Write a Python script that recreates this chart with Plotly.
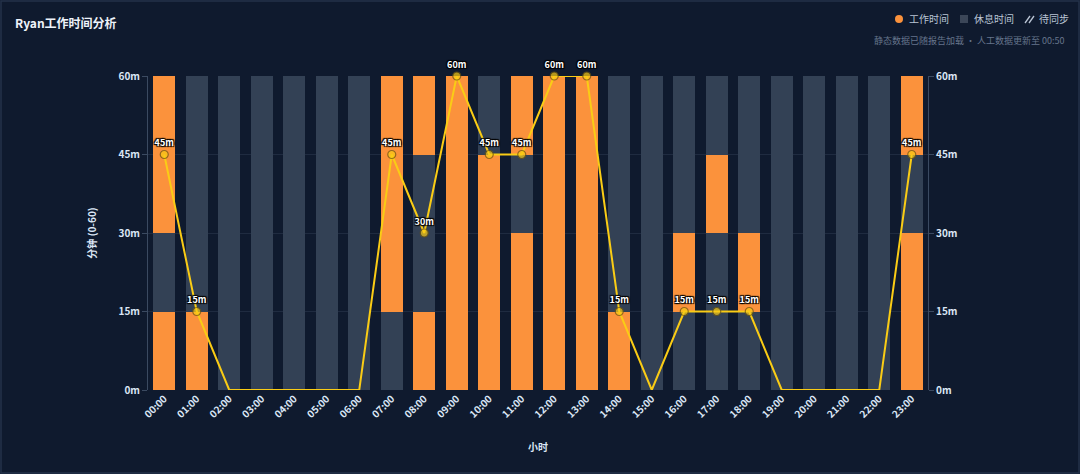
import plotly.graph_objects as go

# hourly data, each hour split into 4 quarters (1 = work, 0 = rest)
hours = ["%02d:00" % h for h in range(24)]
q1 = [1, 1, 0, 0, 0, 0, 0, 0, 1, 1, 1, 1, 1, 1, 1, 0, 0, 0, 0, 0, 0, 0, 0, 1]  # 0-15
q2 = [0, 0, 0, 0, 0, 0, 0, 1, 0, 1, 1, 1, 1, 1, 0, 0, 1, 0, 1, 0, 0, 0, 0, 1]  # 15-30
q3 = [1, 0, 0, 0, 0, 0, 0, 1, 0, 1, 1, 0, 1, 1, 0, 0, 0, 1, 0, 0, 0, 0, 0, 0]  # 30-45
q4 = [1, 0, 0, 0, 0, 0, 0, 1, 1, 1, 0, 1, 1, 1, 0, 0, 0, 0, 0, 0, 0, 0, 0, 1]  # 45-60
quarters = [q1, q2, q3, q4]
work_minutes = [15 * (a + b + c + d) for a, b, c, d in zip(q1, q2, q3, q4)]

BG = "#0f1a2e"
WORK = "#fb923c"
REST = "#334155"
LINE = "#facc15"
TICK = "#dbe6f5"
FONT = "Noto Sans CJK SC, Noto Sans, sans-serif"

W, H = 1080, 474
L, R, T, B = 148, 152, 76, 84


def px(x):
    return (x - L) / (W - L - R)


def py(y):
    return 1 - (y - T) / (H - T - B)


fig = go.Figure()

for q in quarters:
    fig.add_trace(go.Bar(
        x=hours, y=[15] * 24,
        marker=dict(color=[WORK if v else REST for v in q], line=dict(width=0)),
        hoverinfo="skip", showlegend=False,
    ))

fig.add_trace(go.Scatter(
    x=hours, y=work_minutes, mode="lines+markers+text",
    line=dict(color=LINE, width=2),
    marker=dict(size=[8 if v else 0 for v in work_minutes], color=LINE,
                line=dict(color="#6b5410", width=[1.2 if v else 0 for v in work_minutes])),
    text=[("%dm" % v) if v else "" for v in work_minutes],
    textposition="top center",
    textfont=dict(color="white", size=9, family=FONT, weight="bold",
                  shadow="1px 1px 1px #000, -1px -1px 1px #000, 1px -1px 1px #000, -1px 1px 1px #000"),
    cliponaxis=False, showlegend=False,
))
# invisible trace for the right axis
fig.add_trace(go.Scatter(x=hours, y=work_minutes, yaxis="y2", mode="lines",
                         line=dict(width=0), hoverinfo="skip", showlegend=False))

yticks = [0, 15, 30, 45, 60]
ytext = ["%dm" % v for v in yticks]
axis_common = dict(
    range=[0, 60], tickvals=yticks, ticktext=ytext,
    tickfont=dict(color=TICK, size=10, family=FONT, weight="bold"),
    showline=True, linecolor="#3b4a61", linewidth=1,
    ticks="outside", ticklen=5, tickcolor="#3b4a61",
    zeroline=False, fixedrange=True,
)

fig.update_layout(
    width=W, height=H,
    margin=dict(l=L, r=R, t=T, b=B),
    paper_bgcolor=BG, plot_bgcolor=BG,
    barmode="stack", bargap=0.32,
    font=dict(family=FONT, color=TICK),
    xaxis=dict(
        range=[-0.5, 23.5],
        tickangle=-45, tickfont=dict(color=TICK, size=10, family=FONT, weight="bold"),
        showgrid=False, showline=False, ticks="",
        title=dict(text="<b>小时</b>", font=dict(size=10, color=TICK), standoff=24),
    ),
    yaxis=dict(
        **axis_common, side="left",
        showgrid=True, gridcolor="#1f2b40", gridwidth=1,
        title=dict(text="<b>分钟 (0-60)</b>", font=dict(size=10, color=TICK), standoff=20),
    ),
    yaxis2=dict(**axis_common, side="right", overlaying="y", showgrid=False),
)

# card border
fig.add_shape(type="rect", xref="paper", yref="paper",
              x0=px(1), x1=px(W - 1), y0=py(H - 1), y1=py(1),
              line=dict(color="#24324a", width=1.5), layer="below")

# title
fig.add_annotation(xref="paper", yref="paper", x=px(13), y=py(22), xanchor="left", yanchor="middle",
                   text="<b>Ryan工作时间分析</b>", showarrow=False,
                   font=dict(size=12, color="#eef3fa", family=FONT))

# legend
leg_y = py(19)
fig.add_shape(type="circle", xref="paper", yref="paper",
              x0=px(895), x1=px(903), y0=py(23), y1=py(15),
              fillcolor=WORK, line=dict(width=0))
fig.add_annotation(xref="paper", yref="paper", x=px(907), y=leg_y, xanchor="left", yanchor="middle",
                   text="工作时间", showarrow=False, font=dict(size=10, color="#b9c4d4"))
fig.add_shape(type="rect", xref="paper", yref="paper",
              x0=px(960), x1=px(968), y0=py(23), y1=py(15),
              fillcolor="#3b4658", line=dict(width=0))
fig.add_annotation(xref="paper", yref="paper", x=px(972), y=leg_y, xanchor="left", yanchor="middle",
                   text="休息时间", showarrow=False, font=dict(size=10, color="#b9c4d4"))
for dx in (0, 4):
    fig.add_shape(type="line", xref="paper", yref="paper",
                  x0=px(1025 + dx), x1=px(1030 + dx), y0=py(23), y1=py(16),
                  line=dict(color="#b9c4d4", width=1.3))
fig.add_annotation(xref="paper", yref="paper", x=px(1037), y=leg_y, xanchor="left", yanchor="middle",
                   text="待同步", showarrow=False, font=dict(size=10, color="#b9c4d4"))

# subtitle
fig.add_annotation(xref="paper", yref="paper", x=px(1067), y=py(40), xanchor="right", yanchor="middle",
                   text="静态数据已随报告加载 · 人工数据更新至 00:50", showarrow=False,
                   font=dict(size=9, color="#66758c"))

fig.write_html("out.html", config={"displayModeBar": False},
               post_script="document.body.style.margin='0';")
